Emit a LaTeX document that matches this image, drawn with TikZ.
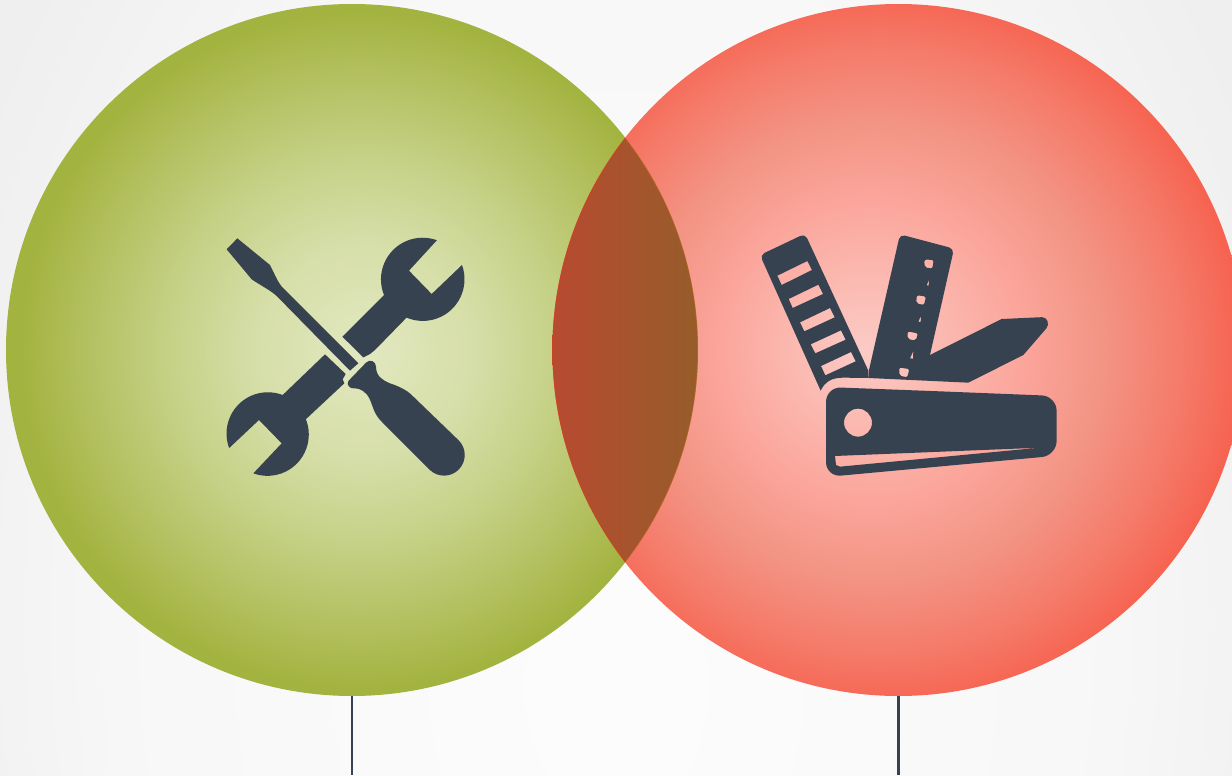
\documentclass[tikz,border=0pt]{standalone}
\usepackage{xcolor}
\usetikzlibrary{positioning}

\definecolor{icondark}{HTML}{36424F}
\definecolor{lensleft}{HTML}{B84A30}
\definecolor{lensright}{HTML}{965C2A}

\pgfdeclareradialshading{pagefade}{\pgfpoint{0bp}{-5.5bp}}{
    color(0bp)=(white!99!black); color(20bp)=(white!97!black);
    color(28bp)=(white!94!black); color(50bp)=(white!89.5!black); color(60bp)=(white!88!black)}
\pgfdeclareradialshading{greenfade}{\pgfpoint{1bp}{0bp}}{
    color(0bp)=(rgb,255:red,226;green,232;blue,192);
    color(8bp)=(rgb,255:red,214;green,222;blue,168);
    color(14bp)=(rgb,255:red,197;green,209;blue,134);
    color(20bp)=(rgb,255:red,179;green,192;blue,95);
    color(24.5bp)=(rgb,255:red,163;green,179;blue,63);
    color(50bp)=(rgb,255:red,163;green,179;blue,63)}
\pgfdeclareradialshading{redfade}{\pgfpoint{-2.5bp}{0bp}}{
    color(0bp)=(rgb,255:red,251;green,203;blue,198);
    color(8bp)=(rgb,255:red,251;green,176;blue,166);
    color(11bp)=(rgb,255:red,251;green,165;blue,155);
    color(16.5bp)=(rgb,255:red,243;green,148;blue,132);
    color(22bp)=(rgb,255:red,245;green,122;blue,105);
    color(26bp)=(rgb,255:red,246;green,99;blue,80);
    color(50bp)=(rgb,255:red,246;green,99;blue,80)}

\begin{document}
\begin{tikzpicture}[
    x=1pt, y=-1pt,
    ball/.style={
        circle, inner sep=0pt, minimum size=692pt
    },
    icon/.style={fill=icondark, even odd rule},
    tail/.style={draw=icondark, line width=2.2pt},
    lensedge/.style={line width=1pt, opacity=0.4},
]

\useasboundingbox (0,0) rectangle (1232,776);
\begin{scope}
    \clip (0,0) rectangle (1232,776);
    \shade[shading=pagefade] (0,-400) rectangle (1232,1400);
\end{scope}

\node[ball, shading=greenfade] (toolsball) at (352,350) {};
\node[ball, shading=redfade, right=-146pt of toolsball] (knifeball) {};

% overlap of the two balls
\begin{scope}
    \clip (toolsball.center) circle[radius=346];
    \clip (knifeball.center) circle[radius=346];
    \shade[left color=lensleft, right color=lensright] (552,138) rectangle (698,562);
    \draw[lensedge, draw=red!60!orange] (knifeball.center) circle[radius=346];
    \draw[lensedge, draw=orange!70!brown] (toolsball.center) circle[radius=346];
\end{scope}

% crossed tools
\begin{scope}[shift={(210,220)}, scale=1/3]
    \fill[icon] (50,88) -- (82,55) -- (180,135) .. controls (195,165) and (205,190) .. (220,205)
        -- (445,430) -- (420,452) -- (200,228) .. controls (180,210) and (150,195) .. (125,178) -- cycle;
    \fill[icon] (415,483) -- (468,428) .. controls (480,415) and (498,425) .. (498,440)
        .. controls (498,470) and (520,482) .. (540,490) .. controls (565,498) and (590,510) .. (605,525)
        -- (745,660) arc[start angle=-46.4, end angle=133.6, radius=62]
        -- (515,605) .. controls (490,580) and (490,560) .. (478,535) .. controls (468,515) and (450,505) .. (435,505)
        .. controls (420,508) and (408,495) .. (415,483) -- cycle;
    \fill[icon] (397,350) -- (522,225) arc[start angle=158, end angle=290, radius=125]
        -- (597,152) -- (665,222) -- (756,135) arc[start angle=340, end angle=473, radius=125]
        -- (495,390) -- (480,402) -- (460,412) -- cycle;
    \fill[icon] (345,403) -- (218,525) arc[start angle=291, end angle=159.5, radius=124]
        -- (147,600) -- (215,670) -- (130,760) arc[start angle=110, end angle=-21.7, radius=124]
        -- (403,490) -- (398,478) -- (407,462) -- cycle;
\end{scope}

% folding knife
\begin{scope}[shift={(750,220)}, scale=1/3]
    \fill[icon] [rounded corners=5pt] (100,72) -- (165,41) [sharp corners] -- (355,452) -- (355,474) -- (280,473)
        .. controls (245,473) and (225,485) .. (212,512) [rounded corners=5pt] -- (30,105) -- cycle
        [sharp corners]
        (82,167) -- (172,123) -- (186,150) -- (95,195) -- cycle
        (116,237) -- (205,194) -- (219,222) -- (128,264) -- cycle
        (150,307) -- (240,264) -- (254,292) -- (163,334) -- cycle
        (182,373) -- (273,331) -- (287,359) -- (196,400) -- cycle
        (213,438) -- (303,396) -- (317,424) -- (226,466) -- cycle;
    \fill[icon] (355,474) -- (357,450) [rounded corners=5pt] -- (450,43) -- (612,86) [sharp corners] -- (540,405)
        -- (755,297) [rounded corners=4pt] -- (888,291) -- (897,316) [sharp corners] -- (820,405) -- (655,488) -- cycle
        [rounded corners=2pt]
        (536,119) -- (551,120) -- (547,146) -- (524,142) -- (523,119) -- cycle
        (513,227) -- (528,230) -- (522,255) -- (499,250) -- (500,226) -- cycle
        (487,337) -- (504,340) -- (497,362) -- (473,357) -- (473,334) -- cycle
        (462,445) -- (478,447) -- (472,472) -- (448,467) -- (448,442) -- cycle
        [sharp corners]
        (530,196) -- (537,178) -- (536,197) -- cycle
        (505,305) -- (513,287) -- (512,306) -- cycle
        (480,415) -- (490,393) -- (489,416) -- cycle;
    \fill[icon] [rounded corners=15pt] (570,514) -- (920,528) -- (920,707) -- (228,771) -- (228,501) -- cycle
        [sharp corners] (255,708) -- (870,683) -- (270,740) -- (258,735) -- cycle
        (366,608) arc[start angle=0, end angle=360, radius=42] -- cycle;
\end{scope}

\coordinate[below=79pt of toolsball.south] (toolstail);
\coordinate[below=79pt of knifeball.south] (knifetail);
\draw[tail] (toolsball.south) -- (toolstail);
\draw[tail] (knifeball.south) -- (knifetail);

\end{tikzpicture}
\end{document}
